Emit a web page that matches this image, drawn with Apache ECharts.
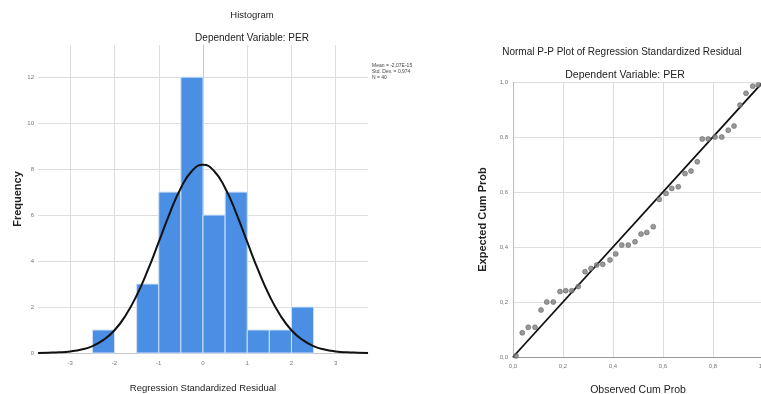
<!DOCTYPE html>
<html>
<head>
<meta charset="utf-8">
<script src="https://cdn.jsdelivr.net/npm/echarts@6/dist/echarts.min.js"></script>
<style>
  html, body { margin: 0; padding: 0; background: #fff; }
  #chart { width: 761px; height: 394px; }
</style>
</head>
<body>
<div id="chart"></div>
<script>
// histogram: bin starts (width 0.5) and counts
const binStarts = [-2.5, -1.5, -1, -0.5, 0, 0.5, 1, 1.5, 2];
const binCounts = [1, 3, 7, 12, 6, 7, 1, 1, 2];
const binWidth = 0.5;

// normal curve
const curveX = [-3.73, -3.5, -3.25, -3, -2.75, -2.5, -2.25, -2, -1.75, -1.5, -1.25, -1, -0.75, -0.5, -0.25, 0,
  0.25, 0.5, 0.75, 1, 1.25, 1.5, 1.75, 2, 2.25, 2.5, 2.75, 3, 3.25, 3.5, 3.73];
const curveY = [0.005, 0.013, 0.03, 0.07, 0.15, 0.3, 0.57, 0.99, 1.63, 2.5, 3.59, 4.83, 6.09, 7.18, 7.92, 8.19,
  7.92, 7.18, 6.09, 4.83, 3.59, 2.5, 1.63, 0.99, 0.57, 0.3, 0.15, 0.07, 0.03, 0.013, 0.005];

const histXTicks = [-3, -2, -1, 0, 1, 2, 3];
const histYTicks = [0, 2, 4, 6, 8, 10, 12];

// P-P plot points
const observedCum = [0.012, 0.037, 0.061, 0.088, 0.112, 0.135, 0.161, 0.188, 0.211, 0.235,
  0.261, 0.288, 0.312, 0.335, 0.359, 0.388, 0.411, 0.435, 0.461, 0.488,
  0.512, 0.535, 0.561, 0.585, 0.612, 0.635, 0.661, 0.688, 0.712, 0.737,
  0.757, 0.781, 0.808, 0.835, 0.861, 0.884, 0.908, 0.932, 0.959, 0.981];
const expectedCum = [0.004, 0.088, 0.108, 0.108, 0.171, 0.2, 0.2, 0.238, 0.241, 0.241,
  0.256, 0.31, 0.322, 0.335, 0.337, 0.353, 0.375, 0.407, 0.407, 0.419,
  0.447, 0.453, 0.474, 0.573, 0.595, 0.613, 0.619, 0.667, 0.676, 0.71,
  0.793, 0.793, 0.8, 0.8, 0.825, 0.84, 0.916, 0.959, 0.985, 0.989];

const font = "'Liberation Sans', Arial, sans-serif";
const gridColor = "#dedede";
const labelStyle = { color: "#777", fontSize: 6, fontFamily: font };
const comma = (v) => v.toFixed(1).replace(".", ",");

const chart = echarts.init(document.getElementById("chart"), null, { renderer: "canvas" });

const bars = binStarts.map((s, i) => [s, s + binWidth, binCounts[i]]);

const option = {
  animation: false,
  title: [
    { text: "Histogram", left: 247, top: 5, textAlign: "center",
      textStyle: { fontSize: 9.5, fontWeight: "normal", color: "#222", fontFamily: font } },
    { text: "Dependent Variable: PER", left: 247, top: 28, textAlign: "center",
      textStyle: { fontSize: 10, fontWeight: "normal", color: "#222", fontFamily: font } },
    { text: "Normal P-P Plot of Regression Standardized Residual", left: 617, top: 42, textAlign: "center",
      textStyle: { fontSize: 10, fontWeight: "normal", color: "#222", fontFamily: font } },
    { text: "Dependent Variable: PER", left: 620, top: 65, textAlign: "center",
      textStyle: { fontSize: 10.5, fontWeight: "normal", color: "#222", fontFamily: font } },
  ],
  grid: [
    { left: 38, right: 393, top: 45, bottom: 41, outerBoundsMode: "none" },
    { left: 513, right: -2, top: 82, bottom: 37, outerBoundsMode: "none" },
  ],
  xAxis: [
    {
      gridIndex: 0, type: "value", min: -3.73, max: 3.73,
      name: "Regression Standardized Residual", nameLocation: "middle", nameGap: 30,
      nameTextStyle: { fontSize: 9.5, color: "#222", fontFamily: font },
      axisLine: { lineStyle: { color: "#c8c8c8" } },
      axisTick: { show: false, customValues: histXTicks },
      axisLabel: { ...labelStyle, customValues: histXTicks, margin: 7 },
      splitLine: { show: true, lineStyle: { color: gridColor } },
    },
    {
      gridIndex: 1, type: "value", min: 0, max: 1, interval: 0.2,
      name: "Observed Cum Prob", nameLocation: "middle", nameGap: 28,
      nameTextStyle: { fontSize: 10.5, color: "#222", fontFamily: font },
      axisLine: { lineStyle: { color: "#999", width: 1.2 } },
      axisTick: { show: false },
      axisLabel: { ...labelStyle, margin: 6, formatter: comma },
      splitLine: { show: true, lineStyle: { color: gridColor } },
    },
  ],
  yAxis: [
    {
      gridIndex: 0, type: "value", min: 0, max: 13.4,
      name: "Frequency", nameLocation: "middle", nameGap: 15,
      nameTextStyle: { fontSize: 11, fontWeight: "bold", color: "#222", fontFamily: font },
      axisLine: { show: true, lineStyle: { color: "#c8c8c8" } },
      axisTick: { show: false, customValues: histYTicks },
      axisLabel: { ...labelStyle, customValues: histYTicks, margin: 4 },
      splitLine: { show: true, lineStyle: { color: gridColor } },
    },
    {
      gridIndex: 1, type: "value", min: 0, max: 1, interval: 0.2,
      name: "Expected Cum Prob", nameLocation: "middle", nameGap: 25,
      nameTextStyle: { fontSize: 11, fontWeight: "bold", color: "#222", fontFamily: font },
      axisLine: { show: true, lineStyle: { color: "#bbb" } },
      axisTick: { show: false },
      axisLabel: { ...labelStyle, margin: 5, formatter: comma },
      splitLine: { show: true, lineStyle: { color: gridColor } },
    },
  ],
  graphic: [
    {
      type: "text", left: 372, top: 63,
      style: { text: "Mean = -2,07E-15\nStd. Dev. = 0,974\nN = 40", fontSize: 5, lineHeight: 6,
        fill: "#444", fontFamily: font },
    },
  ],
  series: [
    {
      type: "custom", xAxisIndex: 0, yAxisIndex: 0, data: bars,
      encode: { x: [0, 1], y: 2 },
      renderItem: (params, api) => {
        const p0 = api.coord([api.value(0), api.value(2)]);
        const p1 = api.coord([api.value(1), 0]);
        return {
          type: "rect",
          shape: { x: p0[0], y: p0[1], width: p1[0] - p0[0], height: p1[1] - p0[1] },
          style: { fill: "#4a8fe3", stroke: "#cfe0f7", lineWidth: 1 },
        };
      },
      z: 2,
    },
    {
      type: "line", xAxisIndex: 0, yAxisIndex: 0, smooth: true, symbol: "none",
      data: curveX.map((x, i) => [x, curveY[i]]),
      lineStyle: { color: "#111", width: 2 }, z: 3,
    },
    {
      type: "line", xAxisIndex: 1, yAxisIndex: 1, symbol: "none",
      data: [[0, 0], [1, 1]],
      lineStyle: { color: "#111", width: 1.8 }, z: 3,
    },
    {
      type: "scatter", xAxisIndex: 1, yAxisIndex: 1, symbolSize: 5,
      data: observedCum.map((x, i) => [x, expectedCum[i]]),
      itemStyle: { color: "#808080", borderColor: "#555", borderWidth: 0.6 }, z: 4,
    },
  ],
};

chart.setOption(option);
</script>
</body>
</html>
